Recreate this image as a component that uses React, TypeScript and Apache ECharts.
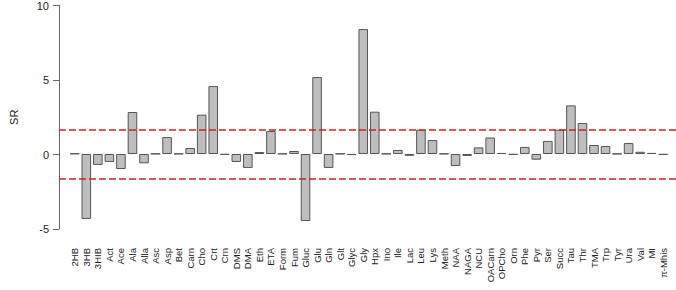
import React, { useEffect, useRef } from "react";
import * as echarts from "echarts";

const categories = ["2HB","3HB","3HIB","Act","Ace","Ala","Alla","Asc","Asp","Bet","Carn","Cho","Crt","Crn","DMS","DMA","Eth","ETA","Form","Fum","Gluc","Glu","Gln","Glt","Glyc","Gly","Hpx","Ino","Ile","Lac","Leu","Lys","Meth","NAA","NAGA","NCU","OACarn","OPCho","Orn","Phe","Pyr","Ser","Succ","Tau","Thr","TMA","Trp","Tyr","Ura","Val","MI","π-Mhis"];
const srValues = [0.03,-4.33,-0.73,-0.53,-1.0,2.8,-0.62,0.02,1.13,0.02,0.4,2.62,4.53,-0.05,-0.53,-0.93,0.13,1.53,0.02,0.2,-4.47,5.13,-0.93,0.02,-0.07,8.33,2.82,0.02,0.27,-0.12,1.62,0.93,0.02,-0.8,-0.13,0.44,1.1,0.07,-0.05,0.47,-0.38,0.87,1.62,3.24,2.07,0.6,0.53,0.02,0.73,0.15,0.07,-0.05];
const yTicks = { min: -5, max: 10, interval: 5 };
const thresholds = [1.645, -1.645];

const FONT = "'Liberation Sans', Arial, Helvetica, sans-serif";

export default function App() {
  const ref = useRef<HTMLDivElement>(null);
  useEffect(() => {
    if (!ref.current) return;
    const chart = echarts.init(ref.current, null, { renderer: "svg" });
    chart.setOption({
      animation: false,
      backgroundColor: "#ffffff",
      textStyle: { fontFamily: FONT },
      grid: [
        { left: 69, right: 7, top: 4, height: 225, containLabel: false },
        { left: 46, right: 0, top: 4, height: 225, containLabel: false },
      ],
      xAxis: [
        {
          type: "category",
          gridIndex: 0,
          data: categories,
          boundaryGap: true,
          axisLine: { show: false },
          axisTick: { show: false },
          axisLabel: {
            interval: 0,
            rotate: 90,
            margin: 19,
            fontSize: 9.5,
            color: "#222",
            fontFamily: FONT,
          },
        },
        {
          type: "value",
          gridIndex: 1,
          min: 0,
          max: 1,
          show: false,
        },
      ],
      yAxis: [
        {
          type: "value",
          gridIndex: 0,
          min: yTicks.min,
          max: yTicks.max,
          interval: yTicks.interval,
          show: false,
        },
        {
          type: "value",
          gridIndex: 1,
          min: yTicks.min,
          max: yTicks.max,
          interval: yTicks.interval,
          name: "SR",
          nameLocation: "middle",
          nameGap: 40,
          nameRotate: 90,
          nameTextStyle: { fontSize: 11, color: "#222", fontFamily: FONT },
          axisLine: { show: true, lineStyle: { color: "#666", width: 1 } },
          axisTick: { show: true, length: 6, lineStyle: { color: "#666" } },
          axisLabel: { fontSize: 11, color: "#222", margin: 10, fontFamily: FONT },
          splitLine: { show: false },
        },
      ],
      series: [
        {
          type: "bar",
          xAxisIndex: 0,
          yAxisIndex: 0,
          data: srValues,
          barCategoryGap: "17%",
          itemStyle: { color: "#bebebe", borderColor: "#555", borderWidth: 1 },
          z: 2,
        },
        ...thresholds.map((t) => ({
          type: "line",
          xAxisIndex: 1,
          yAxisIndex: 1,
          data: [[0, t], [1, t]],
          symbol: "none",
          lineStyle: { color: "#d42020", width: 1.3, type: [7, 3] },
          z: 3,
        })),
      ],
    });
    return () => chart.dispose();
  }, []);
  return (
    <div
      ref={ref}
      style={{ position: "fixed", left: 0, top: 0, width: 676, height: 290 }}
    />
  );
}
